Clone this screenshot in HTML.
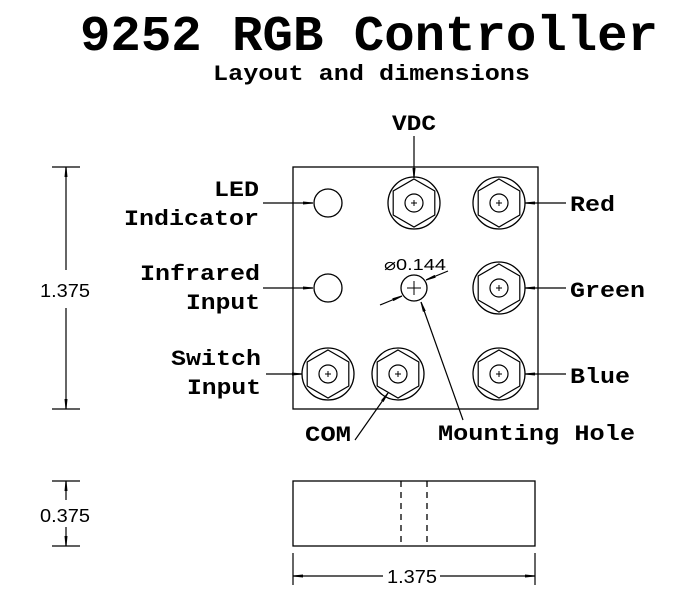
<!DOCTYPE html>
<html><head><style>html,body{margin:0;padding:0;background:#fff}svg{display:block}
.b{font-family:"Liberation Mono",monospace;font-weight:bold;fill:#000}
.l{font-family:"Liberation Sans",sans-serif;fill:#000}
</style></head><body>
<svg width="700" height="600" viewBox="0 0 700 600" xmlns="http://www.w3.org/2000/svg">
<defs>
<marker id="a" viewBox="0 0 10 4" refX="10" refY="2" markerWidth="10" markerHeight="4" markerUnits="userSpaceOnUse" orient="auto"><path d="M0,0.5 L10,1.5 L10,2.5 L0,3.5Z" fill="#000"/></marker>
<g id="nut">
<circle r="26" fill="none" stroke="#000" stroke-width="1.3"/>
<polygon points="0,-24 20.8,-12 20.8,12 0,24 -20.8,12 -20.8,-12" fill="none" stroke="#000" stroke-width="1.2"/>
<circle r="9" fill="none" stroke="#000" stroke-width="1.2"/>
<path d="M-3,0H3M0,-3V3" stroke="#000" stroke-width="1"/>
</g>
</defs>
<text class="b" x="80" y="50" font-size="50" textLength="578" lengthAdjust="spacingAndGlyphs">9252 RGB Controller</text>
<text class="b" x="213" y="80" font-size="22" textLength="317" lengthAdjust="spacingAndGlyphs">Layout and dimensions</text>

<g fill="none" stroke="#000" stroke-width="1.3">
<rect x="293" y="167" width="245" height="242"/>
<circle cx="328" cy="203" r="14"/>
<circle cx="328" cy="288" r="14"/>
<circle cx="414" cy="288" r="13"/>
<path d="M407,288H421M414,281V295" stroke-width="1"/>
<rect x="293" y="481" width="242" height="65"/>
<path d="M401,481V546M427,481V546" stroke-dasharray="6,5"/>
</g>
<use href="#nut" x="414" y="203"/>
<use href="#nut" x="499" y="203"/>
<use href="#nut" x="499" y="288"/>
<use href="#nut" x="328" y="374"/>
<use href="#nut" x="398" y="374"/>
<use href="#nut" x="499" y="374"/>

<g stroke="#000" stroke-width="1.2" fill="none">
<line x1="414" y1="136" x2="414" y2="178" marker-end="url(#a)"/>
<line x1="263" y1="203" x2="313" y2="203" marker-end="url(#a)"/>
<line x1="263" y1="288" x2="313" y2="288" marker-end="url(#a)"/>
<line x1="266" y1="374" x2="302" y2="374" marker-end="url(#a)"/>
<line x1="566" y1="203" x2="525" y2="203" marker-end="url(#a)"/>
<line x1="566" y1="288" x2="525" y2="288" marker-end="url(#a)"/>
<line x1="566" y1="374" x2="525" y2="374" marker-end="url(#a)"/>
<line x1="355" y1="440" x2="388" y2="393" marker-end="url(#a)"/>
<line x1="463" y1="420" x2="421" y2="302" marker-end="url(#a)"/>
<line x1="380" y1="305" x2="402" y2="296" marker-end="url(#a)"/>
<line x1="448" y1="271" x2="426" y2="280" marker-end="url(#a)"/>
<!-- left dims -->
<path d="M52,167H80M52,409H80M52,481H80M52,546H80M293,553V585M535,553V585"/>
<line x1="66" y1="270" x2="66" y2="167" marker-end="url(#a)"/>
<line x1="66" y1="308" x2="66" y2="409" marker-end="url(#a)"/>
<line x1="66" y1="500" x2="66" y2="481" marker-end="url(#a)"/>
<line x1="66" y1="527" x2="66" y2="546" marker-end="url(#a)"/>
<line x1="383" y1="576" x2="293" y2="576" marker-end="url(#a)"/>
<line x1="440" y1="576" x2="535" y2="576" marker-end="url(#a)"/>
</g>
<text class="l" x="40" y="297" font-size="18" textLength="50" lengthAdjust="spacingAndGlyphs" font-weight="300">1.375</text>
<text class="l" x="40" y="522" font-size="18" textLength="50" lengthAdjust="spacingAndGlyphs">0.375</text>
<text class="l" x="387" y="583" font-size="18" textLength="50" lengthAdjust="spacingAndGlyphs">1.375</text>
<text class="l" x="384" y="270" font-size="16" textLength="62" lengthAdjust="spacingAndGlyphs">⌀0.144</text>

<g class="b" font-size="22">
<text x="392" y="130" textLength="44" lengthAdjust="spacingAndGlyphs">VDC</text>
<text x="214" y="196" textLength="45" lengthAdjust="spacingAndGlyphs">LED</text>
<text x="124" y="225" textLength="135" lengthAdjust="spacingAndGlyphs">Indicator</text>
<text x="140" y="280" textLength="120" lengthAdjust="spacingAndGlyphs">Infrared</text>
<text x="186" y="309" textLength="74" lengthAdjust="spacingAndGlyphs">Input</text>
<text x="171" y="365" textLength="90" lengthAdjust="spacingAndGlyphs">Switch</text>
<text x="187" y="394" textLength="74" lengthAdjust="spacingAndGlyphs">Input</text>
<text x="570" y="211" textLength="45" lengthAdjust="spacingAndGlyphs">Red</text>
<text x="570" y="297" textLength="75" lengthAdjust="spacingAndGlyphs">Green</text>
<text x="570" y="383" textLength="60" lengthAdjust="spacingAndGlyphs">Blue</text>
<text x="305" y="441" textLength="46" lengthAdjust="spacingAndGlyphs">COM</text>
<text x="438" y="440" textLength="197" lengthAdjust="spacingAndGlyphs">Mounting Hole</text>
</g>
</svg>
</body></html>
